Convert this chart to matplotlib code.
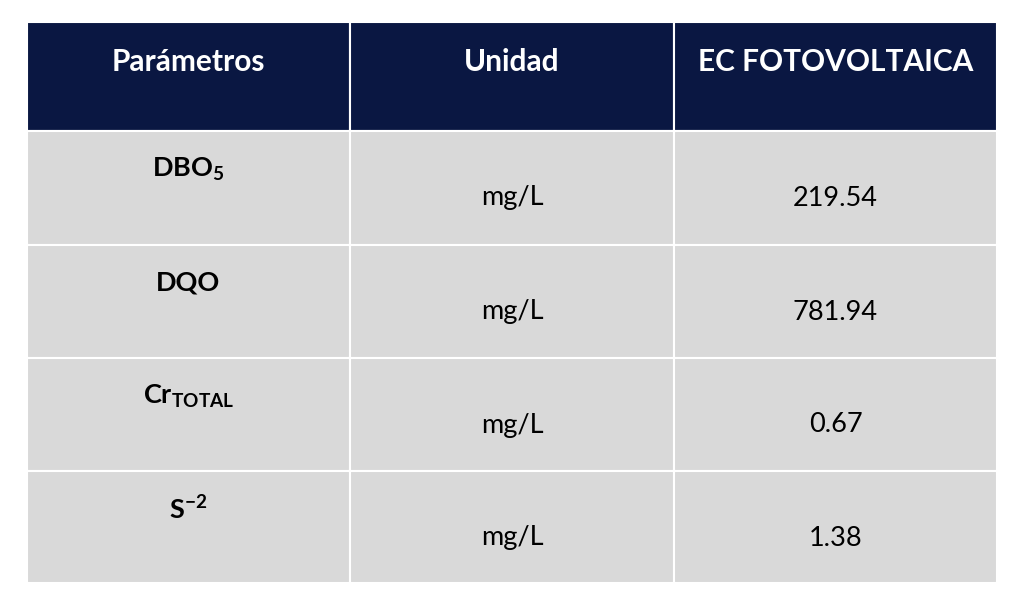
import matplotlib
matplotlib.use("Agg")
import matplotlib.pyplot as plt
from matplotlib.patches import Rectangle

headers = ["Parámetros", "Unidad", "EC FOTOVOLTAICA"]
params = [r"DBO$_\mathbf{5}$", "DQO", r"Cr$_\mathbf{TOTAL}$", r"S$^\mathbf{-2}$"]
units = ["mg/L", "mg/L", "mg/L", "mg/L"]
values = ["219.54", "781.94", "0.67", "1.38"]

plt.rcParams['font.family'] = ['Lato', 'DejaVu Sans']
plt.rcParams['mathtext.fontset'] = 'custom'
plt.rcParams['mathtext.rm'] = 'Lato'
plt.rcParams['mathtext.bf'] = 'Lato:bold'
plt.rcParams['mathtext.default'] = 'bf'

fig = plt.figure(figsize=(10.24, 6.07), dpi=100)
ax = fig.add_axes([0, 0, 1, 1])
ax.set_xlim(0, 1024); ax.set_ylim(607, 0); ax.axis('off')

cols = [27, 350, 674, 997]
rows = [22, 131, 245, 358, 471, 583]
navy = "#0a1742"; gray = "#d9d9d9"

for j in range(3):
    ax.add_patch(Rectangle((cols[j], rows[0]), cols[j+1]-cols[j], rows[1]-rows[0],
                           facecolor=navy, edgecolor='white', lw=1.5))
    ax.text((cols[j]+cols[j+1])/2, 62, headers[j], color='white', fontsize=21.5,
            fontweight='bold', ha='center', va='center')
for i in range(4):
    y0, y1 = rows[i+1], rows[i+2]
    for j in range(3):
        ax.add_patch(Rectangle((cols[j], y0), cols[j+1]-cols[j], y1-y0,
                               facecolor=gray, edgecolor='white', lw=1.5))
    ax.text((cols[0]+cols[1])/2, y0+38, params[i], fontsize=19.5, fontweight='bold',
            ha='center', va='center', color='black')
    ax.text((cols[1]+cols[2])/2, y0+67, units[i], fontsize=19.5, ha='center', va='center')
    ax.text((cols[2]+cols[3])/2, y0+67, values[i], fontsize=19.5, ha='center', va='center')

fig.savefig("out.png", dpi=100, facecolor='white')
